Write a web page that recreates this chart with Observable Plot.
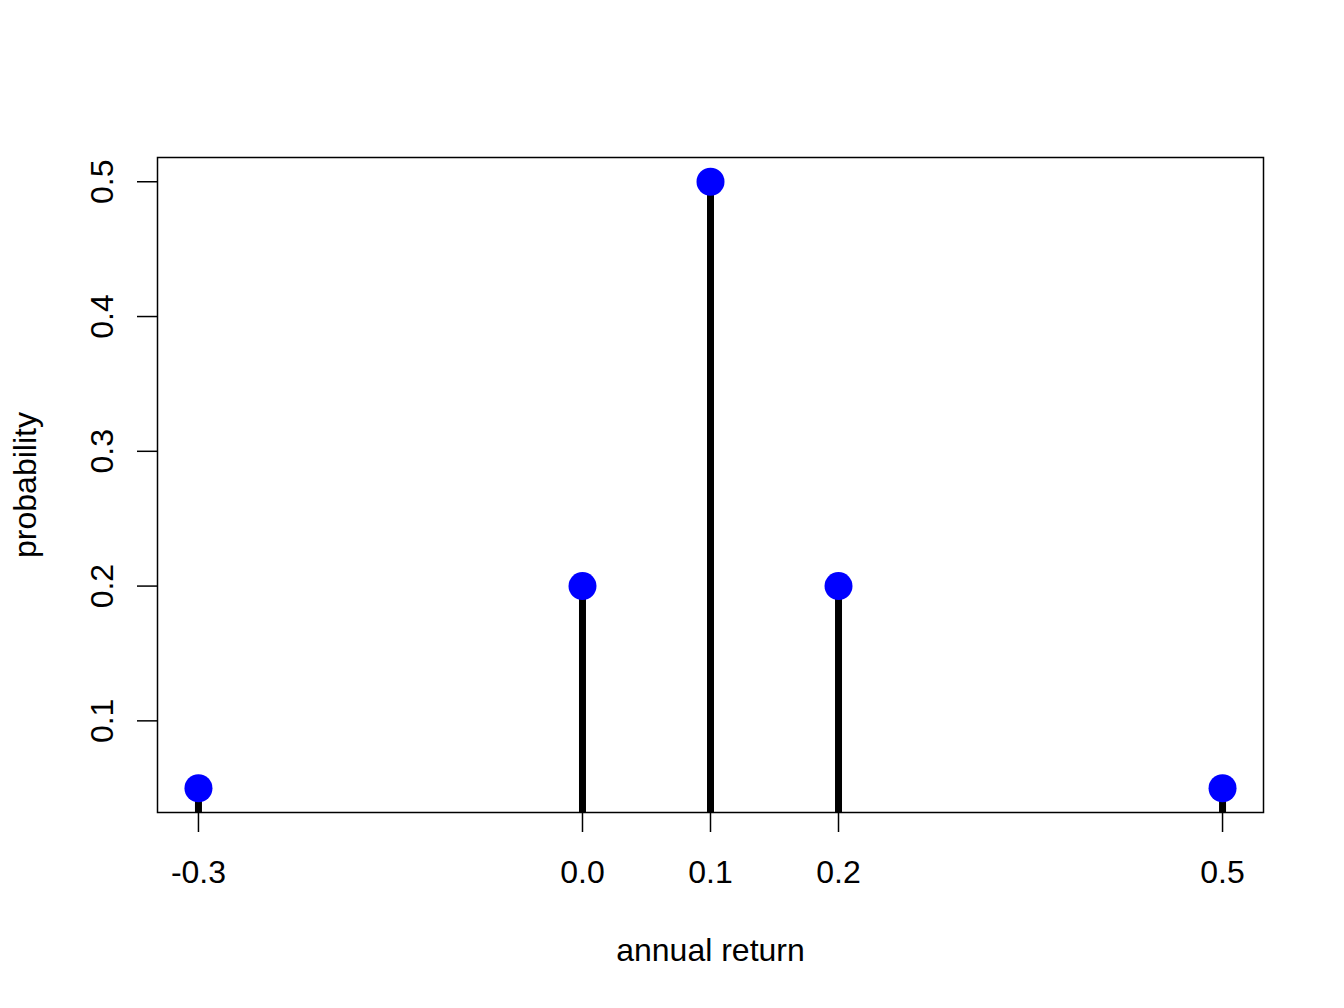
<!DOCTYPE html>
<html>
<head>
<meta charset="utf-8">
<script src="https://cdn.jsdelivr.net/npm/d3@7"></script>
<script src="https://cdn.jsdelivr.net/npm/@observablehq/plot@0.6"></script>
<style>
  html, body { margin: 0; padding: 0; background: #fff; }
  #chart { width: 1344px; height: 1008px; }
</style>
</head>
<body>
<div id="chart"></div>
<script>
const returns = [-0.3, 0.0, 0.1, 0.2, 0.5];
const probs = [0.05, 0.2, 0.5, 0.2, 0.05];
const xTicks = [-0.3, 0.0, 0.1, 0.2, 0.5];
const yTicks = [0.1, 0.2, 0.3, 0.4, 0.5];
const xLabel = "annual return";
const yLabel = "probability";

const data = returns.map((r, i) => ({r, p: probs[i]}));
const fmt = d => d.toFixed(1);
const font = "Liberation Sans, Arial, Helvetica, sans-serif";
const fs = 32;

const chart = Plot.plot({
  width: 1344,
  height: 1008,
  marginLeft: 157,
  marginRight: 81,
  marginTop: 157,
  marginBottom: 196,
  style: {fontFamily: font, background: "white", color: "black"},
  x: {domain: [-0.332, 0.532], label: null, axis: null},
  y: {domain: [0.032, 0.518], label: null, axis: null},
  marks: [
    Plot.ruleX(data, {x: "r", y1: 0, y2: "p", stroke: "black", strokeWidth: 7, clip: true}),
    Plot.dot(data, {x: "r", y: "p", r: 14, fill: "blue", stroke: null}),
    Plot.frame({stroke: "black", strokeWidth: 1.5}),
    Plot.axisX(xTicks, {tickSize: 20, tickFormat: () => "", strokeWidth: 1.5, label: null}),
    Plot.axisY(yTicks, {tickSize: 20, tickFormat: () => "", strokeWidth: 1.5, label: null}),
    Plot.text(xTicks, {x: d => d, text: fmt, frameAnchor: "bottom", dy: 70, lineAnchor: "bottom", fontSize: fs, fill: "black"}),
    Plot.text(yTicks, {y: d => d, text: fmt, frameAnchor: "left", dx: -45, rotate: -90, lineAnchor: "bottom", textAnchor: "middle", fontSize: fs, fill: "black"}),
    Plot.text([xLabel], {text: d => d, frameAnchor: "bottom", dy: 148, lineAnchor: "bottom", fontSize: fs, fill: "black"}),
    Plot.text([yLabel], {text: d => d, frameAnchor: "left", dx: -122, rotate: -90, lineAnchor: "bottom", textAnchor: "middle", fontSize: fs, fill: "black"})
  ]
});
document.getElementById("chart").appendChild(chart);
</script>
</body>
</html>
